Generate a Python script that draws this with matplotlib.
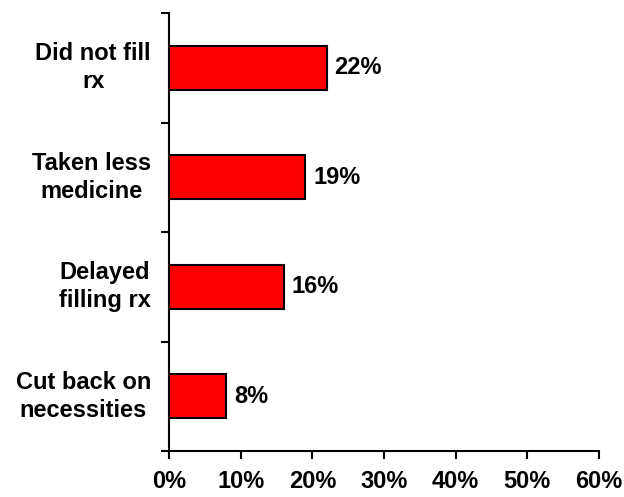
import matplotlib.pyplot as plt
import numpy as np

categories = ["Did not fill\nrx", "Taken less\nmedicine", "Delayed\nfilling rx", "Cut back on\nnecessities"]
values = [22, 19, 16, 8]
xticks = [0, 10, 20, 30, 40, 50, 60]
xtick_labels = ["0%", "10%", "20%", "30%", "40%", "50%", "60%"]

plt.rcParams['font.family'] = ['Liberation Sans', 'DejaVu Sans']
plt.rcParams['font.weight'] = 'bold'

fig = plt.figure(figsize=(6.24, 4.97), dpi=100)
ax = fig.add_axes([169 / 624, 1 - 451 / 497, 430 / 624, 438 / 497])

n = len(categories)
ypos = np.arange(n)[::-1]
ax.barh(ypos, values, height=0.4, color="#ff0000", edgecolor="black", linewidth=1.5)

for y, v in zip(ypos, values):
    ax.text(v + 1.1, y, f"{v}%", va="center", ha="left", fontsize=17, fontweight="bold")

ax.set_xlim(0, 60)
ax.set_ylim(-0.5, n - 0.5)
ax.set_xticks(xticks)
ax.set_xticklabels(xtick_labels, fontsize=17, fontweight="bold")
ax.set_yticks(ypos)
ax.set_yticklabels(categories, fontsize=17, fontweight="bold", ha="right", va="center",
                   multialignment="center", linespacing=1.3)
ax.set_yticks(np.arange(-0.5, n, 1.0), minor=True)

ax.tick_params(axis="y", which="major", length=0, pad=13)
ax.tick_params(axis="y", which="minor", length=6, width=1.5, direction="out")
ax.tick_params(axis="x", length=6, width=1.5, direction="out", pad=8)

for s in ["top", "right"]:
    ax.spines[s].set_visible(False)
for s in ["left", "bottom"]:
    ax.spines[s].set_linewidth(1.5)

fig.savefig("out.png", dpi=100)
